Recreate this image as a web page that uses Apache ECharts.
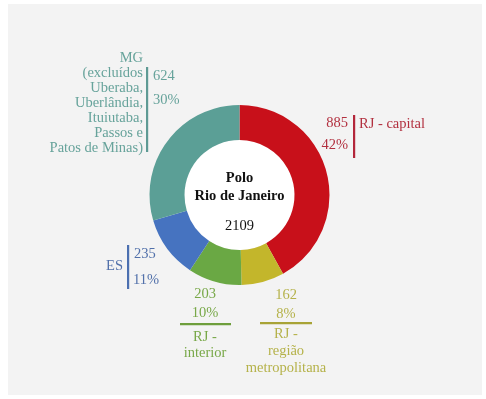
<!DOCTYPE html>
<html><head><meta charset="utf-8">
<script src="https://cdn.jsdelivr.net/npm/echarts@6/dist/echarts.min.js"></script>
<style>html,body{margin:0;padding:0;background:#fff}#c{width:486px;height:399px}</style>
</head><body><div id="c"></div>
<script>
const categories = ["RJ - capital", "RJ - região metropolitana", "RJ - interior", "ES", "MG (excluídos Uberaba, Uberlândia, Ituiutaba, Passos e Patos de Minas)"];
const values = [885, 162, 203, 235, 624];
const percents = ["42%", "8%", "10%", "11%", "30%"];
const sliceColors = ["#c8101a", "#c3b62b", "#6aa844", "#4673c0", "#5b9f96"];
const textColors = ["#b2303f", "#b5b24a", "#78a848", "#5170aa", "#67a39b"];
const barColors = ["#b3263a", "#a8a336", "#6e9e3c", "#4b6fb0", "#5e9a94"];
const centerTitle = ["Polo", "Rio de Janeiro"];
const total = values.reduce((a, b) => a + b, 0);

const FONT = "Liberation Serif";
const FS = 14.5;
function txt(x, y, s, color, align, bold) {
  return { type: 'text', x: x, y: y, style: { text: s, fill: color, font: (bold ? 'bold ' : '') + FS + 'px "' + FONT + '"', textAlign: align || 'left', textVerticalAlign: 'middle' }, z: 10 };
}
function vbar(x, y1, y2, color) {
  return { type: 'rect', shape: { x: x - 1, y: y1, width: 2.2, height: y2 - y1 }, style: { fill: color }, z: 10 };
}
function hbar(x1, x2, y, color) {
  return { type: 'rect', shape: { x: x1, y: y - 1, width: x2 - x1, height: 2.2 }, style: { fill: color }, z: 10 };
}

const g = [];
g.push({ type: 'rect', shape: { x: 8, y: 4, width: 474, height: 391 }, style: { fill: '#f3f3f3' }, z: -10 });
// RJ capital
g.push(vbar(354, 115, 158, barColors[0]));
g.push(txt(348, 123, String(values[0]), textColors[0], 'right'));
g.push(txt(348, 145, percents[0], textColors[0], 'right'));
g.push(txt(359, 124, categories[0], textColors[0], 'left'));
// MG
g.push(vbar(147, 67, 152, barColors[4]));
g.push(txt(153, 76, String(values[4]), textColors[4], 'left'));
g.push(txt(153, 100, percents[4], textColors[4], 'left'));
const mgLines = ["MG", "(excluídos", "Uberaba,", "Uberlândia,", "Ituiutaba,", "Passos e", "Patos de Minas)"];
mgLines.forEach((s, i) => g.push(txt(143, 58 + i * 15, s, textColors[4], 'right')));
// ES
g.push(vbar(128, 245, 289, barColors[3]));
g.push(txt(123, 266, "ES", textColors[3], 'right'));
g.push(txt(134, 254, String(values[3]), textColors[3], 'left'));
g.push(txt(133, 280, percents[3], textColors[3], 'left'));
// RJ interior
g.push(txt(205, 294, String(values[2]), textColors[2], 'center'));
g.push(txt(205, 313, percents[2], textColors[2], 'center'));
g.push(hbar(180, 231, 324, barColors[2]));
g.push(txt(205, 337, "RJ -", textColors[2], 'center'));
g.push(txt(205, 353, "interior", textColors[2], 'center'));
// RJ regiao metropolitana
g.push(txt(286, 295, String(values[1]), textColors[1], 'center'));
g.push(txt(286, 314, percents[1], textColors[1], 'center'));
g.push(hbar(260, 312, 323, barColors[1]));
g.push(txt(286, 334, "RJ -", textColors[1], 'center'));
g.push(txt(286, 351, "região", textColors[1], 'center'));
g.push(txt(286, 368, "metropolitana", textColors[1], 'center'));
// center
g.push({ type: 'circle', shape: { cx: 239.5, cy: 195, r: 55 }, style: { fill: '#ffffff' }, z: 1 });
g.push(txt(239.5, 178, centerTitle[0], '#111', 'center', true));
g.push(txt(239.5, 196, centerTitle[1], '#111', 'center', true));
g.push(txt(239.5, 226, String(total), '#111', 'center'));

const chart = echarts.init(document.getElementById('c'), null, { renderer: 'canvas' });
chart.setOption({
  backgroundColor: '#ffffff',
  animation: false,
  graphic: g,
  series: [{
    type: 'pie',
    center: [239.5, 195],
    radius: [55, 90],
    startAngle: 90,
    clockwise: true,
    silent: true,
    label: { show: false },
    labelLine: { show: false },
    itemStyle: { borderWidth: 0 },
    data: categories.map((c, i) => ({ name: c, value: values[i], itemStyle: { color: sliceColors[i] } }))
  }]
});
</script></body></html>
